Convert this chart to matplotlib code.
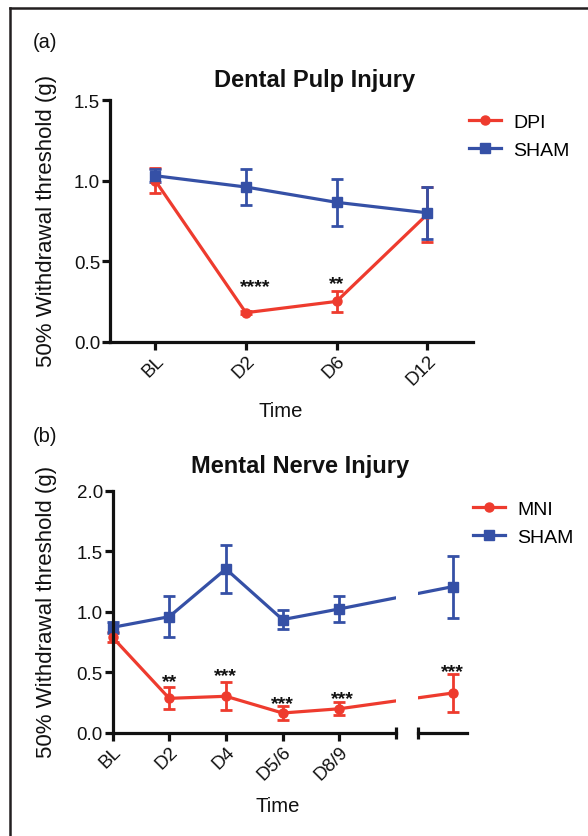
import matplotlib
matplotlib.use("Agg")
import matplotlib.pyplot as plt
from matplotlib.lines import Line2D
import numpy as np

plt.rcParams['font.family'] = ['Liberation Sans', 'DejaVu Sans']

W, H = 588, 837
RED = '#EE3B2E'
BLUE = '#3550A6'
INK = '#111111'

# ---------------- data: panel (a) ----------------
a_labels = ['BL', 'D2', 'D6', 'D12']
a_dpi = [1.00, 0.18, 0.25, 0.79]
a_dpi_err = [0.075, 0.01, 0.065, 0.17]
a_sham = [1.03, 0.96, 0.865, 0.80]
a_sham_err = [0.04, 0.11, 0.145, 0.16]
a_star_text = ['****', '**']
a_star_x = [1.1, 2.0]
a_star_y = [0.38, 0.40]

# ---------------- data: panel (b) ----------------
b_labels = ['BL', 'D2', 'D4', 'D5/6', 'D8/9']
b_x = [0, 1, 2, 3, 4, 6]
b_mni = [0.79, 0.286, 0.303, 0.165, 0.20, 0.33]
b_mni_err = [0.04, 0.09, 0.117, 0.055, 0.053, 0.16]
b_sham = [0.872, 0.96, 1.354, 0.936, 1.024, 1.208]
b_sham_err = [0.045, 0.17, 0.195, 0.08, 0.11, 0.255]
b_star_text = ['**', '***', '***', '***', '***']
b_star_x = [1, 2, 3, 4.05, 6]
b_star_y = [0.473, 0.523, 0.294, 0.336, 0.561]

fig = plt.figure(figsize=(W / 100, H / 100), dpi=100)


def frac(x0, y0, x1, y1):
    return [x0 / W, 1 - y1 / H, (x1 - x0) / W, (y1 - y0) / H]


def fx(px):
    return px / W


def fy(py):
    return 1 - py / H


LW = 2.3
MS = 6.5
ekw = dict(lw=LW, ms=MS, capsize=4.3, capthick=2.0, elinewidth=2.0)
TICK_FS = 13.5


def style_axes(ax):
    for s in ['top', 'right']:
        ax.spines[s].set_visible(False)
    for s in ['left', 'bottom']:
        ax.spines[s].set_linewidth(LW)
        ax.spines[s].set_color(INK)
    ax.tick_params(direction='out', length=6, width=LW, color=INK,
                   labelsize=TICK_FS, labelcolor=INK, pad=1)


def legend_handles(names, colors, markers):
    return [Line2D([], [], color=c, marker=m, lw=LW, ms=MS, label=n)
            for n, c, m in zip(names, colors, markers)]


leg_kw = dict(bbox_transform=fig.transFigure, frameon=False, fontsize=14,
              handlelength=1.65, handletextpad=0.62, labelspacing=0.55,
              borderpad=0, borderaxespad=0, loc='upper left')

# ---------------- panel (a) ----------------
axa = fig.add_axes(frac(109.9, 101, 472.5, 342.7))
style_axes(axa)
xa = np.arange(len(a_labels))
axa.errorbar(xa, a_dpi, yerr=a_dpi_err, fmt='-o', color=RED, **ekw)
axa.errorbar(xa, a_sham, yerr=a_sham_err, fmt='-s', color=BLUE, **ekw)
axa.set_xlim(-0.5, 3.5)
axa.set_ylim(0, 1.5)
axa.set_yticks([0, 0.5, 1.0, 1.5])
axa.set_yticklabels(['0.0', '0.5', '1.0', '1.5'])
axa.set_xticks(xa)
axa.set_xticklabels(a_labels, rotation=45, ha='right', va='top',
                    rotation_mode='anchor')
for t, x, y in zip(a_star_text, a_star_x, a_star_y):
    axa.annotate(t, (x, y), xytext=(0, -7.8), textcoords='offset points',
                 ha='center', va='baseline', fontsize=14, fontweight='bold',
                 color=INK)
axa.legend(handles=legend_handles(['DPI', 'SHAM'], [RED, BLUE], ['o', 's']),
           bbox_to_anchor=(fx(469), fy(114)), **leg_kw)

fig.text(fx(315), fy(80), 'Dental Pulp Injury', ha='center', va='center',
         fontsize=17, fontweight='bold', color=INK)
fig.text(fx(281), fy(412), 'Time', ha='center', va='center', fontsize=14.6, color=INK)
fig.text(fx(47), fy(221), '50% Withdrawal threshold (g)', rotation=90,
         ha='center', va='center', fontsize=16, color=INK)
fig.text(fx(45), fy(42), '(a)', ha='center', va='center', fontsize=14.5, color=INK)

# ---------------- panel (b) ----------------
UNIT = 56.7
left_lim = (-0.3, 5.0)
right_lim = (5.38, 6.25)
x0px = 112.5
axb = fig.add_axes(frac(x0px + left_lim[0] * UNIT, 491.7,
                        x0px + left_lim[1] * UNIT, 734))
axb2 = fig.add_axes(frac(x0px + right_lim[0] * UNIT, 491.7,
                         x0px + right_lim[1] * UNIT, 734))
style_axes(axb)
style_axes(axb2)

for ax in (axb, axb2):
    ax.errorbar(b_x, b_mni, yerr=b_mni_err, fmt='-o', color=RED, **ekw)
    ax.errorbar(b_x, b_sham, yerr=b_sham_err, fmt='-s', color=BLUE, **ekw)
    ax.set_ylim(0, 2.0)

axb.set_xlim(*left_lim)
axb2.set_xlim(*right_lim)
axb.spines['left'].set_position(('data', 0))
axb.spines['bottom'].set_bounds(0, left_lim[1])
axb.set_yticks([0, 0.5, 1.0, 1.5, 2.0])
axb.set_yticklabels(['0.0', '0.5', '1.0', '1.5', '2.0'])
axb.set_xticks(range(len(b_labels)))
axb.set_xticklabels(b_labels, rotation=45, ha='right', va='top',
                    rotation_mode='anchor')
axb.plot([left_lim[1]], [0], marker='|', ms=9, mew=LW, color=INK, clip_on=False)

axb2.spines['left'].set_visible(False)
axb2.set_yticks([])
axb2.set_xticks([])
axb2.plot([right_lim[0]], [0], marker='|', ms=9, mew=LW, color=INK, clip_on=False)

for t, x, y in zip(b_star_text, b_star_x, b_star_y):
    target = axb if x <= left_lim[1] else axb2
    target.annotate(t, (x, y), xytext=(0, -7.8), textcoords='offset points',
                    ha='center', va='baseline', fontsize=14, fontweight='bold',
                    color=INK, annotation_clip=False)

axb.legend(handles=legend_handles(['MNI', 'SHAM'], [RED, BLUE], ['o', 's']),
           bbox_to_anchor=(fx(473), fy(501)), **leg_kw)

fig.text(fx(300), fy(467), 'Mental Nerve Injury', ha='center', va='center',
         fontsize=17, fontweight='bold', color=INK)
fig.text(fx(277.5), fy(807), 'Time', ha='center', va='center', fontsize=14.6, color=INK)
fig.text(fx(47), fy(612), '50% Withdrawal threshold (g)', rotation=90,
         ha='center', va='center', fontsize=16, color=INK)
fig.text(fx(45), fy(437), '(b)', ha='center', va='center', fontsize=14.5, color=INK)

# ---------------- outer frame ----------------
fig.add_artist(Line2D([fx(10), fx(10)], [fy(9), 0], transform=fig.transFigure,
                      color='#231F20', lw=1.8))
fig.add_artist(Line2D([fx(10), 1], [fy(9), fy(9)], transform=fig.transFigure,
                      color='#231F20', lw=1.8))

fig.savefig('out.png', dpi=100)
